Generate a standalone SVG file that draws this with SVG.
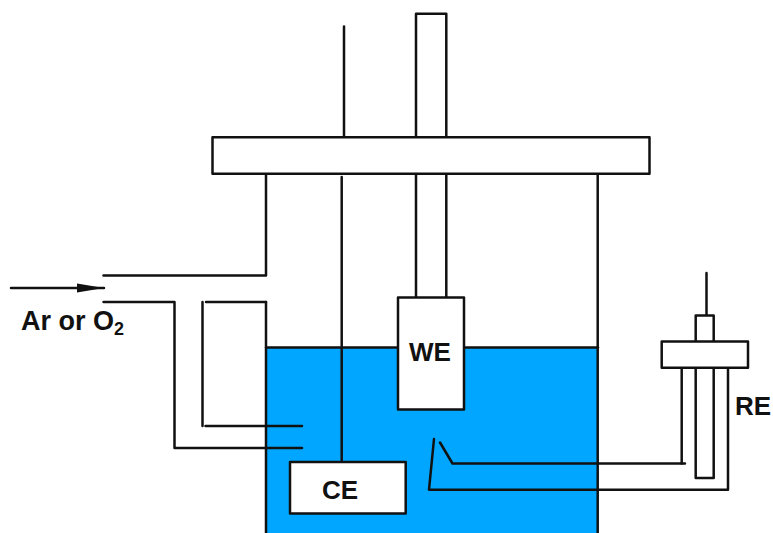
<svg xmlns="http://www.w3.org/2000/svg" width="773" height="533" viewBox="0 0 773 533">
<style>
.l{fill:none;stroke:#111;stroke-width:2.5;stroke-linejoin:round;stroke-linecap:round}
.b{fill:#fff;stroke:#111;stroke-width:2.5;stroke-linejoin:round}
.t{font-family:"Liberation Sans",Arial,sans-serif;font-weight:700;font-size:26px;fill:#111}
</style>
<defs>
<marker id="arrow" markerUnits="userSpaceOnUse" markerWidth="28" markerHeight="12" refX="27" refY="6" orient="auto"><path d="M0 1.5L27 6L0 10.500Z" fill="#111"/></marker>
</defs>
<rect width="773" height="533" fill="#fff"/>
<g id="electrolyte"><rect x="266" y="347.500" width="332" height="186" fill="#00a6ff"/><path class="l" d="M266 347.500H598"/></g>
<g id="cell"><path class="l" d="M266 174V275.500H103.500"/><path class="l" d="M266 302V533"/><path class="l" d="M597.700 174V533"/></g>
<g id="connectors">
<path class="l" d="M11 288H104" marker-end="url(#arrow)"/>
<path class="l" d="M103.500 302H174.500V448H302"/>
<path class="l" d="M266 302H206"/>
<path class="l" d="M202.500 302V426"/>
<path class="l" d="M205.500 426H302"/>
<path class="l" d="M344 26.500V137"/>
<path class="l" d="M341.700 177V462"/>
<path class="l" d="M440 442.500L452.500 463.500H685"/>
<path class="l" d="M681.700 367.700V463.500"/>
<path class="l" d="M434 439L429 489.700H728V367.700"/>
<path class="l" d="M706.500 273V318"/>
</g>
<g id="we-rod"><rect class="b" x="416" y="13.700" width="30.300" height="124"/><path class="l" d="M416 174V297M446.300 174V297"/></g>
<g id="lid"><rect class="b" x="212.500" y="137.300" width="437" height="36.400"/></g>
<g id="we"><rect class="b" x="398" y="297.500" width="66" height="112"/><text class="t" x="430" y="361" text-anchor="middle">WE</text></g>
<g id="ce"><rect class="b" x="290" y="462" width="115.700" height="51.500"/><text class="t" x="340" y="499" text-anchor="middle">CE</text></g>
<g id="re"><rect class="b" x="695.700" y="315.500" width="18" height="162.500"/><rect class="b" x="661.700" y="341.500" width="86.300" height="26.300"/><text class="t" x="735" y="414.500">RE</text></g>
<g id="gas-label"><text class="t" x="21" y="330" font-size="27" style="font-size:27px">Ar or O<tspan style="font-size:18px" dy="5">2</tspan></text></g>
</svg>
